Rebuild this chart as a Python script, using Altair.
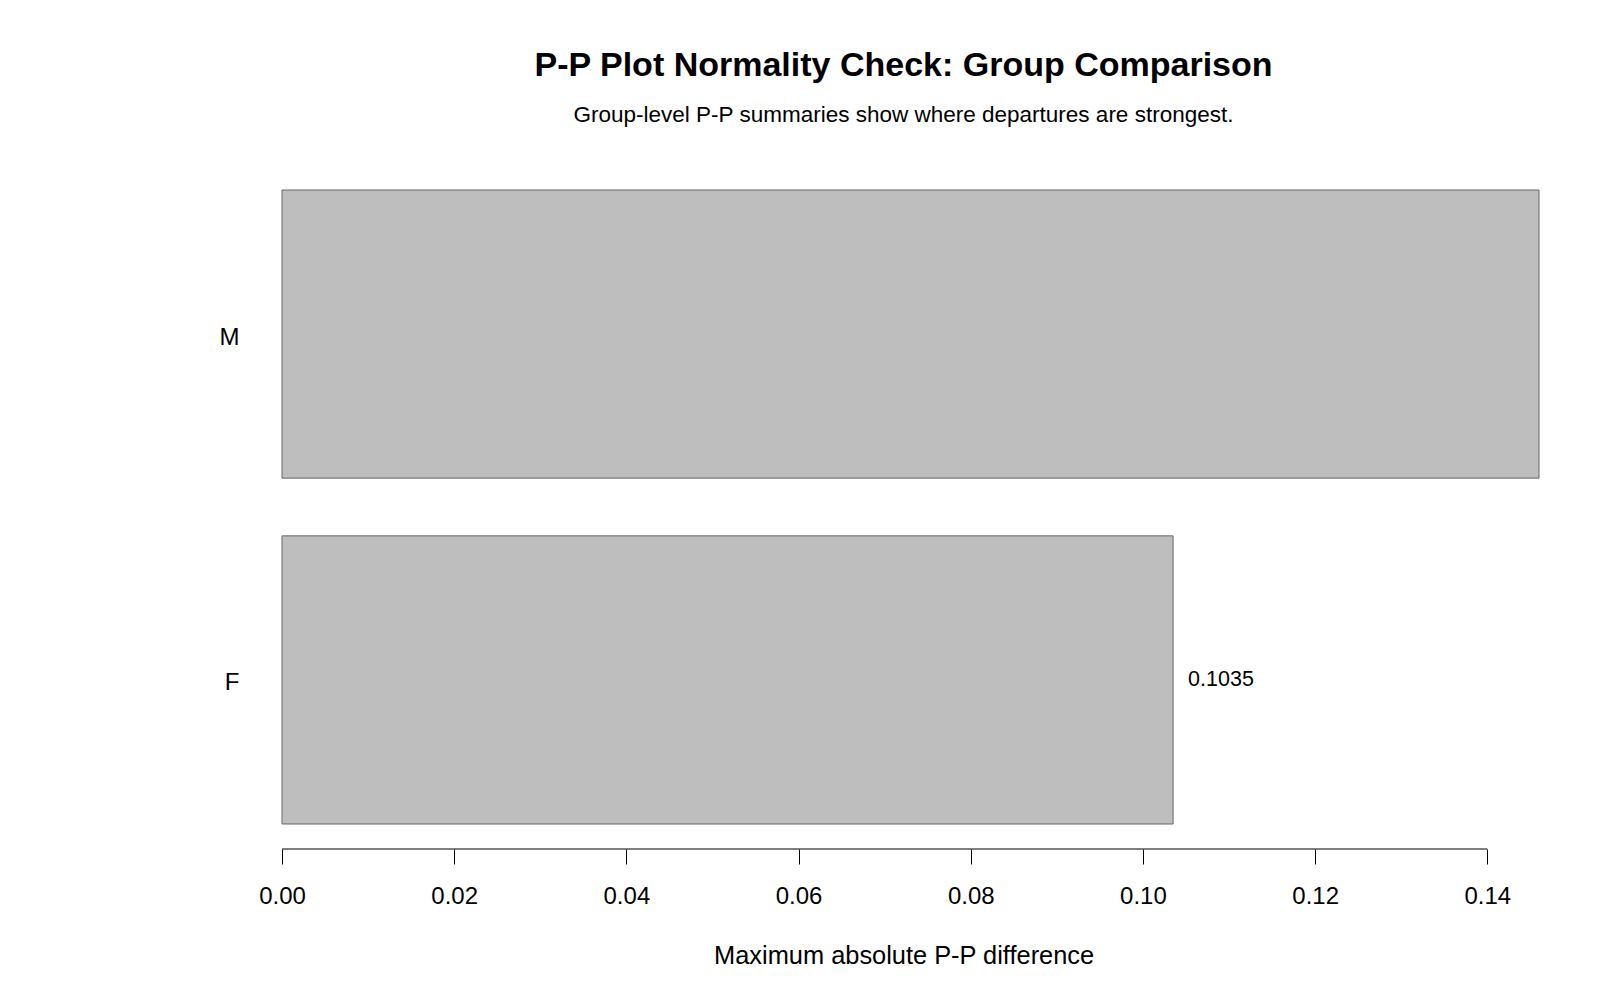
import altair as alt
import pandas as pd

groups = ["M", "F"]
max_abs_diff = [0.1460, 0.1035]
tick_values = [0.00, 0.02, 0.04, 0.06, 0.08, 0.10, 0.12, 0.14]

title_text = "P-P Plot Normality Check: Group Comparison"
subtitle_text = "Group-level P-P summaries show where departures are strongest."
x_title = "Maximum absolute P-P difference"

FONT = "Liberation Sans"
W = 1257
H = 634
AXIS_OFFSET = 25

df = pd.DataFrame({"group": groups, "value": max_abs_diff})
df["label"] = [f"{v:.4f}" for v in max_abs_diff]
axis_df = pd.DataFrame({"start": [min(tick_values)], "end": [max(tick_values)]})

xscale = alt.Scale(domain=[0, max(max_abs_diff)], nice=False, zero=True)
yscale = alt.Scale(paddingInner=0.1669, paddingOuter=0)

bars = alt.Chart(df).mark_bar(
    color="#bebebe", stroke="#666666", strokeWidth=1, cornerRadius=0
).encode(
    x=alt.X(
        "value:Q",
        scale=xscale,
        axis=alt.Axis(
            values=tick_values,
            format=".2f",
            title=x_title,
            domain=False,
            grid=False,
            offset=AXIS_OFFSET,
            tickSize=15,
            tickColor="black",
            tickWidth=1,
            labelFont=FONT,
            labelFontSize=24,
            labelColor="black",
            labelPadding=20,
            labelFlush=False,
            titleFont=FONT,
            titleFontSize=25.4,
            titleFontWeight="normal",
            titleColor="black",
            titlePadding=35.5,
            titleX=621.6,
        ),
    ),
    y=alt.Y(
        "group:N",
        sort=groups,
        scale=yscale,
        axis=alt.Axis(
            title=None,
            domain=False,
            ticks=False,
            grid=False,
            labelFont=FONT,
            labelFontSize=24,
            labelColor="black",
            labelPadding=43,
            labelAngle=0,
            labelOffset=3.5,
        ),
    ),
)

# value labels only where they fit inside the plotting region (as in the reference)
labels = alt.Chart(df).transform_filter(
    alt.datum.value < max(tick_values)
).mark_text(
    align="left", baseline="middle", dx=15, fontSize=21.5, font=FONT, color="black"
).encode(
    x=alt.X("value:Q", scale=xscale),
    y=alt.Y("group:N", sort=groups, scale=yscale),
    text="label:N",
)

axis_line = alt.Chart(axis_df).mark_rule(color="black", strokeWidth=1).encode(
    x=alt.X("start:Q", scale=xscale),
    x2="end:Q",
    y=alt.value(H + AXIS_OFFSET),
)

chart = alt.layer(bars, labels, axis_line).properties(
    width=W,
    height=H,
    background="white",
    title=alt.TitleParams(
        text=title_text,
        subtitle=subtitle_text,
        anchor="middle",
        frame="group",
        dx=-7,
        font=FONT,
        fontSize=34,
        fontWeight="bold",
        color="black",
        subtitleFont=FONT,
        subtitleFontSize=22.5,
        subtitleColor="black",
        subtitlePadding=21.5,
        offset=63,
    ),
    autosize=alt.AutoSizeParams(type="none"),
    padding={"left": 282, "top": 190, "right": 61, "bottom": 176},
).configure_view(strokeWidth=0, stroke=None)

chart.save("out.html", embed_options={"renderer": "svg", "actions": False})
